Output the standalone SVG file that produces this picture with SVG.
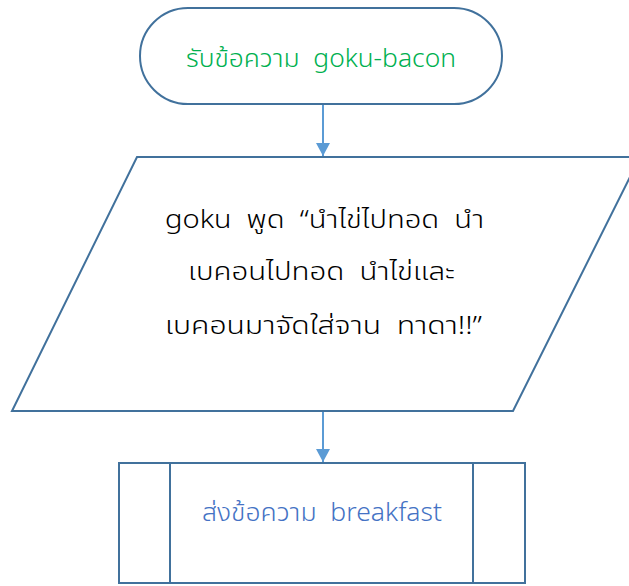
<svg xmlns="http://www.w3.org/2000/svg" width="629" height="586" viewBox="0 0 629 586">
<style>
.shape{fill:#fff;stroke:#41719C;stroke-width:2}
.conn{stroke:#5B9BD5;stroke-width:2;fill:none}
text{font-family:"Noto Sans Thai","Noto Sans","Liberation Sans",sans-serif;font-size:25px;text-anchor:middle;white-space:pre;font-weight:300}
</style>
<defs>
<marker id="arr" markerWidth="14" markerHeight="14" refX="13" refY="7" orient="auto" markerUnits="userSpaceOnUse">
<path d="M0,0 L13,7 L0,14 Z" fill="#5B9BD5"/>
</marker>
</defs>
<rect width="629" height="586" fill="#fff"/>
<g id="connectors">
<line class="conn" x1="323" y1="104" x2="323" y2="156" marker-end="url(#arr)"/>
<line class="conn" x1="323" y1="411" x2="323" y2="462" marker-end="url(#arr)"/>
</g>
<g id="start">
<rect class="shape" x="140" y="8" width="362" height="96" rx="48" ry="48"/>
<text x="321" y="67" fill="#00B050" textLength="270" lengthAdjust="spacingAndGlyphs" xml:space="preserve">รับข้อความ  goku-bacon</text>
</g>
<g id="output">
<polygon class="shape" points="137,157 640,157 513,411 12,411"/>
<text x="324.5" y="228" fill="#000" textLength="319" lengthAdjust="spacingAndGlyphs" xml:space="preserve">goku  พูด  “นำไข่ไปทอด  นำ</text>
<text x="321.5" y="280" fill="#000" textLength="267" lengthAdjust="spacingAndGlyphs" xml:space="preserve">เบคอนไปทอด  นำไข่และ</text>
<text x="323.5" y="334" fill="#000" textLength="317" lengthAdjust="spacingAndGlyphs" xml:space="preserve">เบคอนมาจัดใส่จาน  ทาดา!!”</text>
</g>
<g id="send">
<rect class="shape" x="119" y="463" width="406" height="120"/>
<line class="shape" x1="170" y1="463" x2="170" y2="583"/>
<line class="shape" x1="473" y1="463" x2="473" y2="583"/>
<text x="322" y="521" fill="#4472C4" textLength="240" lengthAdjust="spacingAndGlyphs" xml:space="preserve">ส่งข้อความ  breakfast</text>
</g>
</svg>
